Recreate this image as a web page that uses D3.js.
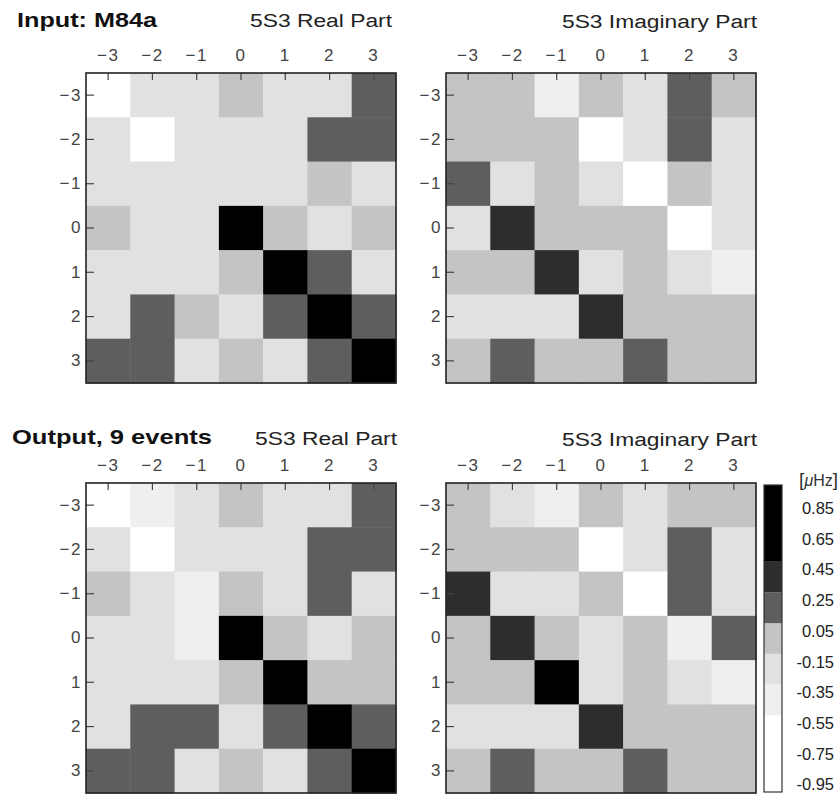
<!DOCTYPE html>
<html>
<head>
<meta charset="utf-8">
<script src="https://cdn.jsdelivr.net/npm/d3@7"></script>
<style>
  body { margin: 0; background: #fff; }
  svg { display: block; }
  .tick text { font-family: "Liberation Sans", Arial, sans-serif; font-size: 17px; fill: #444; }
</style>
</head>
<body>
<svg id="chart" width="839" height="796"></svg>
<script>
// data (m, m' = -3..3), values in µHz read from grey level
let modes = [-3, -2, -1, 0, 1, 2, 3];

let inputReal = [
  [-0.72, -0.21, -0.19, 0.02, -0.18, -0.2, 0.22],
  [-0.2, -0.75, -0.2, -0.19, -0.21, 0.21, 0.19],
  [-0.18, -0.2, -0.22, -0.2, -0.19, 0.03, -0.2],
  [0.01, -0.2, -0.19, 0.92, 0.0, -0.17, -0.02],
  [-0.21, -0.19, -0.2, 0.02, 0.9, 0.2, -0.18],
  [-0.2, 0.21, -0.01, -0.2, 0.22, 0.91, 0.2],
  [0.2, 0.19, -0.2, 0.0, -0.21, 0.21, 0.93]
];
let inputImag = [
  [0.0, -0.02, -0.38, 0.01, -0.2, 0.2, 0.02],
  [0.02, 0.0, -0.01, -0.7, -0.19, 0.21, -0.2],
  [0.22, -0.2, 0.0, -0.2, -0.72, 0.01, -0.21],
  [-0.2, 0.4, 0.02, 0.0, -0.02, -0.7, -0.19],
  [0.01, -0.01, 0.42, -0.21, 0.0, -0.2, -0.38],
  [-0.19, -0.2, -0.21, 0.41, 0.02, 0.0, -0.01],
  [0.0, 0.2, 0.01, -0.02, 0.21, 0.0, 0.01]
];
let outputReal = [
  [-0.7, -0.38, -0.2, 0.01, -0.2, -0.19, 0.21],
  [-0.19, -0.72, -0.21, -0.2, -0.18, 0.2, 0.22],
  [0.02, -0.2, -0.4, 0.0, -0.2, 0.19, -0.21],
  [-0.2, -0.21, -0.37, 0.91, 0.02, -0.18, 0.0],
  [-0.2, -0.19, -0.2, 0.01, 0.89, -0.01, 0.02],
  [-0.21, 0.2, 0.22, -0.19, 0.21, 0.92, 0.2],
  [0.21, 0.2, -0.2, 0.0, -0.2, 0.19, 0.9]
];
let outputImag = [
  [0.01, -0.2, -0.39, 0.0, -0.19, 0.02, -0.01],
  [0.0, 0.02, -0.01, -0.71, -0.2, 0.2, -0.21],
  [0.4, -0.2, -0.19, 0.01, -0.73, 0.21, -0.2],
  [0.02, 0.41, -0.01, -0.2, 0.0, -0.37, 0.2],
  [-0.01, 0.0, 0.6, -0.2, 0.02, -0.2, -0.4],
  [-0.2, -0.21, -0.19, 0.4, 0.0, 0.01, -0.02],
  [0.0, 0.21, 0.02, -0.01, 0.2, 0.0, 0.01]
];

// colour bar
let levelBreaks = [-0.5, -0.3, -0.1, 0.1, 0.3, 0.5];
let levelGreys = ["#ffffff", "#efefef", "#e1e1e1", "#c4c4c4", "#5e5e5e", "#2d2d2d", "#000000"];
let cbTicks = [0.85, 0.65, 0.45, 0.25, 0.05, -0.15, -0.35, -0.55, -0.75, -0.95];

let panels = [
  { data: inputReal, x: 86, y: 73, title: "5S3 Real Part", tx: 250, ty: 27, tw: 142 },
  { data: inputImag, x: 446, y: 73, title: "5S3 Imaginary Part", tx: 562, ty: 28, tw: 195 },
  { data: outputReal, x: 86, y: 483, title: "5S3 Real Part", tx: 255, ty: 445, tw: 142 },
  { data: outputImag, x: 446, y: 483, title: "5S3 Imaginary Part", tx: 562, ty: 446, tw: 195 }
];

var svg = d3.select("#chart");
var size = 310;

var color = d3.scaleThreshold().domain(levelBreaks).range(levelGreys);
var band = d3.scaleBand().domain(modes).range([0, size]);

panels.forEach(function (p) {
  var g = svg.append("g").attr("transform", "translate(" + p.x + "," + p.y + ")");

  // cells
  p.data.forEach(function (row, i) {
    g.selectAll(null)
      .data(row)
      .enter()
      .append("rect")
      .attr("x", (d, j) => band(modes[j]))
      .attr("y", band(modes[i]))
      .attr("width", band.bandwidth() + 0.5)
      .attr("height", band.bandwidth() + 0.5)
      .attr("fill", d => color(d));
  });

  // axes, ticks inside
  var xa = g.append("g").call(
    d3.axisTop(band).tickSize(-7).tickPadding(12).tickFormat(d3.format("d"))
  );
  var ya = g.append("g").call(
    d3.axisLeft(band).tickSize(-8).tickPadding(4).tickFormat(d3.format("d"))
  );
  [xa, ya].forEach(function (a) {
    a.select(".domain").remove();
    a.selectAll(".tick line").attr("stroke", "#444").attr("stroke-width", 1.2);
    a.selectAll(".tick text").attr("letter-spacing", "1.5px");
  });

  // frame
  g.append("rect")
    .attr("width", size)
    .attr("height", size)
    .attr("fill", "none")
    .attr("stroke", "#222")
    .attr("stroke-width", 1.6);

  svg.append("text")
    .attr("x", p.tx)
    .attr("y", p.ty)
    .attr("textLength", p.tw)
    .attr("lengthAdjust", "spacingAndGlyphs")
    .style("font-family", "Liberation Sans, Arial, sans-serif")
    .style("font-size", "18px")
    .style("fill", "#222")
    .text(p.title);
});

// row titles
svg.append("text")
  .attr("x", 17).attr("y", 27)
  .attr("textLength", 140).attr("lengthAdjust", "spacingAndGlyphs")
  .style("font-family", "Liberation Sans, Arial, sans-serif")
  .style("font-size", "20px").style("font-weight", "700").style("fill", "#111")
  .text("Input: M84a");
svg.append("text")
  .attr("x", 12).attr("y", 444)
  .attr("textLength", 200).attr("lengthAdjust", "spacingAndGlyphs")
  .style("font-family", "Liberation Sans, Arial, sans-serif")
  .style("font-size", "21px").style("font-weight", "700").style("fill", "#111")
  .text("Output, 9 events");

// colour bar
var cbY = d3.scaleLinear().domain([-1, 1]).range([792, 485]);
var cb = svg.append("g").attr("transform", "translate(764,0)");
var bands = levelGreys.map(function (c) {
  var ext = color.invertExtent(c);
  return { c: c, lo: ext[0] === undefined ? -1 : ext[0], hi: ext[1] === undefined ? 1 : ext[1] };
});
cb.selectAll("rect.band")
  .data(bands)
  .enter()
  .append("rect")
  .attr("class", "band")
  .attr("x", 0)
  .attr("width", 18)
  .attr("y", d => cbY(d.hi))
  .attr("height", d => cbY(d.lo) - cbY(d.hi))
  .attr("fill", d => d.c);
cb.append("rect")
  .attr("y", cbY(1))
  .attr("width", 18)
  .attr("height", cbY(-1) - cbY(1))
  .attr("fill", "none")
  .attr("stroke", "#333")
  .attr("stroke-width", 1.2);

svg.selectAll("text.cb")
  .data(cbTicks)
  .enter()
  .append("text")
  .attr("class", "cb")
  .attr("x", 834)
  .attr("y", d => cbY(d) + 6)
  .attr("text-anchor", "end")
  .style("font-family", "Liberation Sans, Arial, sans-serif")
  .style("font-size", "16.5px")
  .style("fill", "#222")
  .text(d => d.toFixed(2));

var unit = svg.append("text")
  .attr("x", 838).attr("y", 486)
  .attr("text-anchor", "end")
  .style("font-family", "Liberation Sans, Arial, sans-serif")
  .style("font-size", "16px")
  .style("fill", "#333");
unit.append("tspan").style("font-size", "19px").text("[");
unit.append("tspan").style("font-style", "italic").text("\u03bc");
unit.append("tspan").text("Hz");
unit.append("tspan").style("font-size", "19px").text("]");
</script>
</body>
</html>
